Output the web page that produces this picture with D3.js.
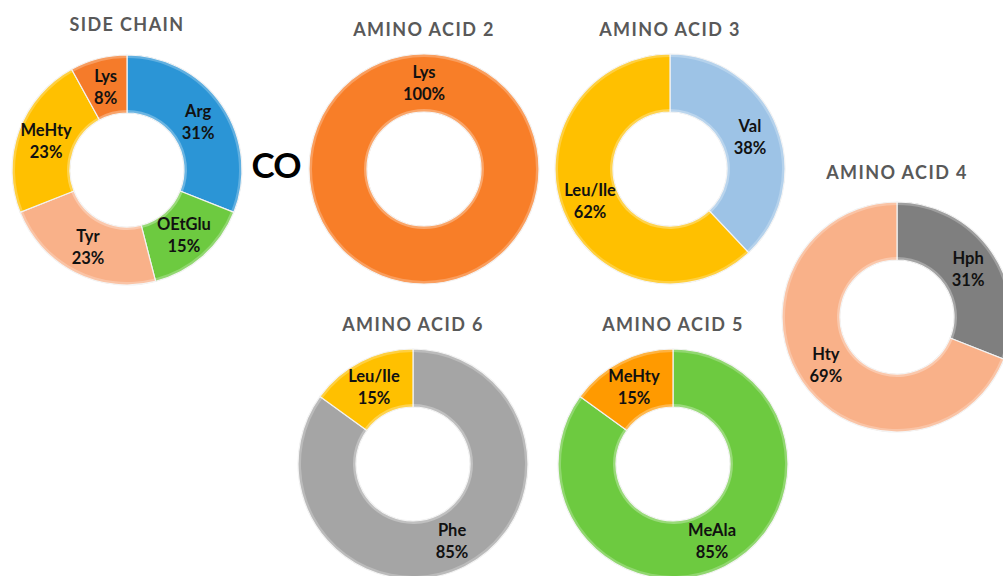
<!DOCTYPE html>
<html>
<head>
<meta charset="utf-8">
<script src="https://cdn.jsdelivr.net/npm/d3@7"></script>
<style>
  body { margin: 0; background: #fff; }
  svg { display: block; }
</style>
</head>
<body>
<svg id="chart" width="1003" height="576"></svg>
<script>
// chart data, one small array per donut
const sideChainLabels = ["Arg", "OEtGlu", "Tyr", "MeHty", "Lys"];
const sideChainValues = [31, 15, 23, 23, 8];
const sideChainColors = ["#2b95d6", "#6dca40", "#f9b189", "#ffc000", "#f57b2a"];

const aa2Labels = ["Lys"];
const aa2Values = [100];
const aa2Colors = ["#f87e28"];

const aa3Labels = ["Val", "Leu/Ile"];
const aa3Values = [38, 62];
const aa3Colors = ["#9dc3e6", "#ffc000"];

const aa4Labels = ["Hph", "Hty"];
const aa4Values = [31, 69];
const aa4Colors = ["#7f7f7f", "#f9b189"];

const aa5Labels = ["MeAla", "MeHty"];
const aa5Values = [85, 15];
const aa5Colors = ["#6dca40", "#ff9a00"];

const aa6Labels = ["Phe", "Leu/Ile"];
const aa6Values = [85, 15];
const aa6Colors = ["#a5a5a5", "#ffc000"];

const donuts = [
    {title: "SIDE CHAIN", labels: sideChainLabels, values: sideChainValues, colors: sideChainColors, cx: 127, cy: 170, ty: 25},
    {title: "AMINO ACID 2", labels: aa2Labels, values: aa2Values, colors: aa2Colors, cx: 424, cy: 169, ty: 30},
    {title: "AMINO ACID 3", labels: aa3Labels, values: aa3Values, colors: aa3Colors, cx: 670, cy: 169, ty: 30},
    {title: "AMINO ACID 4", labels: aa4Labels, values: aa4Values, colors: aa4Colors, cx: 897, cy: 317, ty: 173},
    {title: "AMINO ACID 6", labels: aa6Labels, values: aa6Values, colors: aa6Colors, cx: 413, cy: 464, ty: 325},
    {title: "AMINO ACID 5", labels: aa5Labels, values: aa5Values, colors: aa5Colors, cx: 673, cy: 464, ty: 325}
];

const outerR = 115;
const innerR = 57;
const font = "Lato, 'Open Sans', sans-serif";

const svg = d3.select("#chart");

const pie = d3.pie().sort(null).value(d => d.value);
const arc = d3.arc().innerRadius(innerR).outerRadius(outerR);
const labelArc = d3.arc().innerRadius(innerR).outerRadius(outerR);
// thin bevel rings at the outer and inner edge
const outerEdge = d3.arc().innerRadius(outerR - 3).outerRadius(outerR);
const innerEdge = d3.arc().innerRadius(innerR).outerRadius(innerR + 3);

// a full ring gets its label at the top, like the original
function labelPos(d) {
    if (d.endAngle - d.startAngle >= 2 * Math.PI - 1e-6) {
        return labelArc.centroid({startAngle: 0, endAngle: 0});
    }
    return labelArc.centroid(d);
}

donuts.forEach(dn => {
    let rows = dn.labels.map((l, i) => ({label: l, value: dn.values[i], color: dn.colors[i]}));
    let total = d3.sum(dn.values);
    let arcs = pie(rows);

    let g = svg.append("g")
        .attr("transform", `translate(${dn.cx}, ${dn.cy})`);

    g.selectAll("path.slice")
        .data(arcs)
        .join("path")
        .attr("class", "slice")
        .attr("d", arc)
        .attr("fill", d => d.data.color)
        .attr("stroke", "#f2f2f2")
        .attr("stroke-width", 1.2);

    g.selectAll("path.oedge")
        .data(arcs)
        .join("path")
        .attr("class", "oedge")
        .attr("d", outerEdge)
        .attr("fill", "#fff")
        .attr("fill-opacity", 0.25);

    g.selectAll("path.iedge")
        .data(arcs)
        .join("path")
        .attr("class", "iedge")
        .attr("d", innerEdge)
        .attr("fill", "#fff")
        .attr("fill-opacity", 0.3);

    let lbl = g.selectAll("text.lbl")
        .data(arcs)
        .join("text")
        .attr("class", "lbl")
        .attr("transform", d => `translate(${labelPos(d)})`)
        .attr("text-anchor", "middle")
        .attr("font-family", font)
        .attr("font-weight", 700)
        .attr("font-size", 16.5)
        .attr("fill", "#111");
    lbl.append("tspan")
        .attr("x", 0)
        .attr("y", -5)
        .text(d => d.data.label);
    lbl.append("tspan")
        .attr("x", 0)
        .attr("y", 17)
        .text(d => Math.round(d.data.value / total * 100) + "%");

    svg.append("text")
        .attr("x", dn.cx)
        .attr("y", dn.ty + 6)
        .attr("text-anchor", "middle")
        .attr("font-family", font)
        .attr("font-weight", 700)
        .attr("font-size", 18)
        .attr("letter-spacing", 1.4)
        .attr("fill", "#595959")
        .text(dn.title);
});

svg.append("text")
    .attr("x", 276)
    .attr("y", 178)
    .attr("text-anchor", "middle")
    .attr("font-family", font)
    .attr("font-weight", 700)
    .attr("font-size", 35)
    .attr("letter-spacing", -1)
    .attr("fill", "#000")
    .text("CO");
</script>
</body>
</html>
